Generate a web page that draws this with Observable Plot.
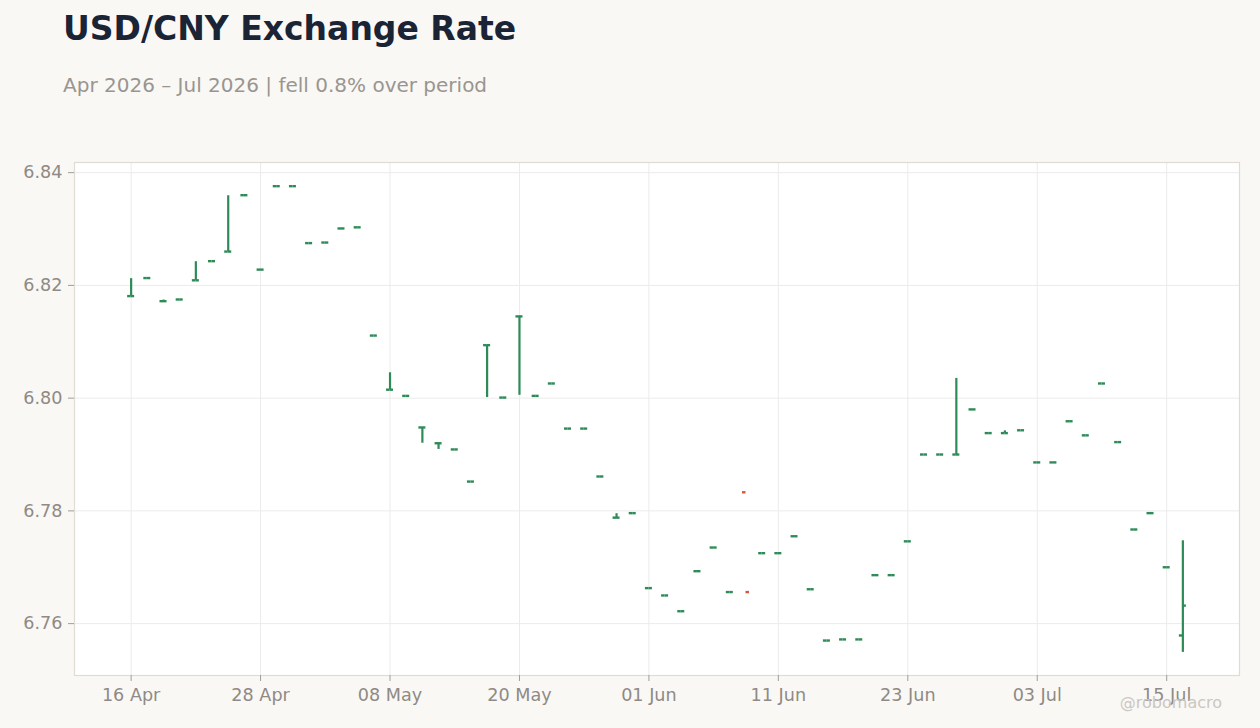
<!DOCTYPE html>
<html>
<head>
<meta charset="utf-8">
<script src="https://cdn.jsdelivr.net/npm/d3@7"></script>
<script src="https://cdn.jsdelivr.net/npm/@observablehq/plot@0.6"></script>
<style>
  html, body { margin: 0; padding: 0; background: #f9f8f5; }
  #wrap { position: relative; width: 1260px; height: 728px; background: #f9f8f5; font-family: "DejaVu Sans", sans-serif; overflow: hidden; }
  #title { position: absolute; left: 63px; top: 12px; font-size: 33px; line-height: 1; font-weight: bold; color: #1b2435; white-space: nowrap; }
  #subtitle { position: absolute; left: 63px; top: 75px; font-size: 20px; line-height: 1; color: #999590; white-space: nowrap; }
  #chart { position: absolute; left: 0; top: 130px; }
  #credit { position: absolute; right: 38px; top: 695px; font-size: 16px; line-height: 1; color: #cbc7c2; white-space: nowrap; }
</style>
</head>
<body>
<div id="wrap">
  <div id="title">USD/CNY Exchange Rate</div>
  <div id="subtitle">Apr 2026 – Jul 2026 | fell 0.8% over period</div>
  <div id="chart"></div>
  <div id="credit">@robomacro</div>
</div>
<script>
const dates = [
  "2026-04-16","2026-04-17","2026-04-20","2026-04-21","2026-04-22","2026-04-23","2026-04-24","2026-04-27","2026-04-28","2026-04-29","2026-04-30",
  "2026-05-01","2026-05-04","2026-05-05","2026-05-06","2026-05-07","2026-05-08","2026-05-11","2026-05-12","2026-05-13","2026-05-14","2026-05-15",
  "2026-05-18","2026-05-19","2026-05-20","2026-05-21","2026-05-22","2026-05-25","2026-05-26","2026-05-27","2026-05-28","2026-05-29",
  "2026-06-01","2026-06-02","2026-06-03","2026-06-04","2026-06-05","2026-06-08","2026-06-09","2026-06-10","2026-06-11","2026-06-12",
  "2026-06-15","2026-06-16","2026-06-17","2026-06-18","2026-06-19","2026-06-22","2026-06-23","2026-06-24","2026-06-25","2026-06-26",
  "2026-06-29","2026-06-30","2026-07-01","2026-07-02","2026-07-03","2026-07-06","2026-07-07","2026-07-08","2026-07-09","2026-07-10",
  "2026-07-13","2026-07-14","2026-07-15","2026-07-16"
];
const open = [
  6.8181,6.8213,6.8172,6.8175,6.8209,6.8243,6.8260,6.8360,6.8228,6.8376,6.8376,
  6.8275,6.8276,6.8301,6.8303,6.8111,6.8015,6.8004,6.7948,6.7920,6.7909,6.7852,
  6.8094,6.8001,6.8145,6.8004,6.8026,6.7946,6.7946,6.7861,6.7788,6.7796,
  6.7663,6.7650,6.7622,6.7693,6.7735,6.7656,6.7833,6.7725,6.7725,6.7755,
  6.7661,6.7570,6.7572,6.7572,6.7686,6.7686,6.7746,6.7900,6.7900,6.7900,
  6.7980,6.7938,6.7938,6.7943,6.7886,6.7886,6.7959,6.7934,6.8026,6.7922,
  6.7767,6.7796,6.7700,6.7579
];
const high = [
  6.8212,6.8213,6.8174,6.8175,6.8242,6.8243,6.8359,6.8360,6.8228,6.8376,6.8376,
  6.8275,6.8276,6.8301,6.8303,6.8111,6.8045,6.8004,6.7948,6.7920,6.7909,6.7852,
  6.8094,6.8001,6.8145,6.8004,6.8026,6.7946,6.7946,6.7861,6.7795,6.7796,
  6.7663,6.7650,6.7622,6.7693,6.7735,6.7656,null,6.7725,6.7725,6.7755,
  6.7661,6.7570,6.7572,6.7572,6.7686,6.7686,6.7746,6.7900,6.7900,6.8035,
  6.7980,6.7938,6.7942,6.7943,6.7886,6.7886,6.7959,6.7934,6.8026,6.7922,
  6.7767,6.7796,6.7700,6.7747
];
const low = [
  6.8181,6.8213,6.8172,6.8175,6.8209,6.8243,6.8260,6.8360,6.8228,6.8376,6.8376,
  6.8275,6.8276,6.8301,6.8303,6.8111,6.8015,6.8004,6.7920,6.7909,6.7909,6.7852,
  6.8001,6.8001,6.8005,6.8004,6.8026,6.7946,6.7946,6.7861,6.7788,6.7796,
  6.7663,6.7650,6.7622,6.7693,6.7735,6.7656,null,6.7725,6.7725,6.7755,
  6.7661,6.7570,6.7572,6.7572,6.7686,6.7686,6.7746,6.7900,6.7900,6.7900,
  6.7980,6.7938,6.7938,6.7943,6.7886,6.7886,6.7959,6.7934,6.8026,6.7922,
  6.7767,6.7796,6.7700,6.7549
];
const close = [
  6.8181,6.8213,6.8172,6.8175,6.8209,6.8243,6.8260,6.8360,6.8228,6.8376,6.8376,
  6.8275,6.8276,6.8301,6.8303,6.8111,6.8015,6.8004,6.7948,6.7920,6.7909,6.7852,
  6.8094,6.8001,6.8145,6.8004,6.8026,6.7946,6.7946,6.7861,6.7788,6.7796,
  6.7663,6.7650,6.7622,6.7693,6.7735,6.7656,6.7656,6.7725,6.7725,6.7755,
  6.7661,6.7570,6.7572,6.7572,6.7686,6.7686,6.7746,6.7900,6.7900,6.7900,
  6.7980,6.7938,6.7938,6.7943,6.7886,6.7886,6.7959,6.7934,6.8026,6.7922,
  6.7767,6.7796,6.7700,6.7632
];
const xTickDates = ["2026-04-16","2026-04-28","2026-05-08","2026-05-20","2026-06-01","2026-06-11","2026-06-23","2026-07-03","2026-07-15"];
const xTickLabels = ["16 Apr","28 Apr","08 May","20 May","01 Jun","11 Jun","23 Jun","03 Jul","15 Jul"];
const yTicks = [6.76, 6.78, 6.80, 6.82, 6.84];

const rows = dates.map((d, i) => ({date: d, open: open[i], high: high[i], low: low[i], close: close[i],
  up: close[i] >= open[i]}));
const labelOf = new Map(xTickDates.map((d, i) => [d, xTickLabels[i]]));

const W = 1260, H = 598, ML = 74, MR = 21, MT = 32, MB = 53;
const padOuter = 3;
const bw = (W - ML - MR) / (dates.length + 2 * padOuter);
const half = bw / 2;
const tickLen = 3.5;
const green = "#2e8b57", red = "#d4583b";
const col = d => d.up ? green : red;
const textColor = "#8f8a85";

const chart = Plot.plot({
  width: W, height: H,
  marginLeft: ML, marginRight: MR, marginTop: MT, marginBottom: MB,
  style: {fontFamily: "DejaVu Sans, sans-serif", fontSize: "17.6px", background: "transparent", color: textColor, overflow: "visible"},
  x: {type: "band", domain: dates, paddingInner: 0, paddingOuter: padOuter, align: 0.5, round: false},
  y: {domain: [6.7508, 6.8418]},
  marks: [
    Plot.frame({fill: "white", stroke: null}),
    Plot.gridY(yTicks, {stroke: "#ebebeb", strokeOpacity: 1}),
    Plot.gridX(xTickDates, {stroke: "#ebebeb", strokeOpacity: 1}),
    Plot.frame({stroke: "#e0dbd3", strokeWidth: 1.2}),
    Plot.axisY(yTicks, {tickFormat: d3.format(".2f"), tickSize: 6, tickPadding: 6, stroke: "#a19c97", fill: textColor, label: null}),
    Plot.axisX(xTickDates, {tickFormat: d => labelOf.get(d), tickSize: 6, tickPadding: 7, stroke: "#a19c97", fill: textColor, label: null}),
    Plot.ruleX(rows.filter(d => d.high != null), {x: "date", y1: "low", y2: "high", stroke: col, strokeWidth: 2.2}),
    Plot.tickY(rows, {x: "date", y: "open", stroke: col, strokeWidth: 2.4, insetLeft: half - tickLen, insetRight: half}),
    Plot.tickY(rows, {x: "date", y: "close", stroke: col, strokeWidth: 2.4, insetLeft: half, insetRight: half - tickLen})
  ]
});
document.getElementById("chart").appendChild(chart);
</script>
</body>
</html>
